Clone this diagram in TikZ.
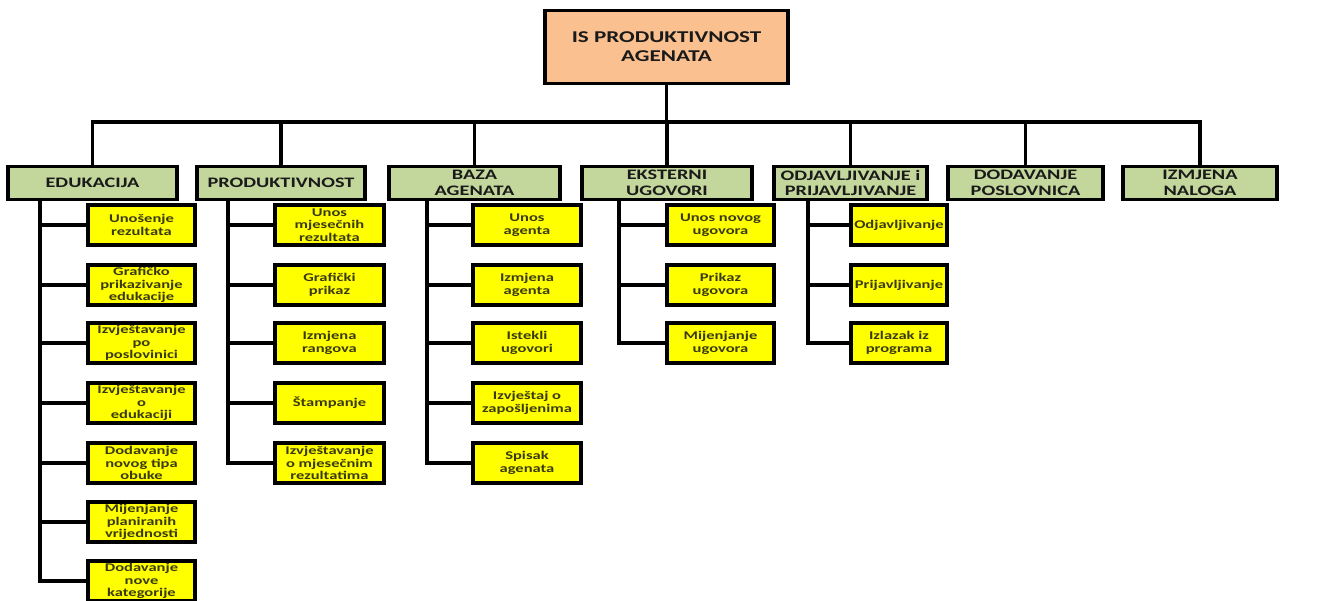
\documentclass[tikz,border=0pt]{standalone}
\usepackage{fontspec}
\setmainfont{Carlito}[FakeStretch=1.4]
\usetikzlibrary{calc}
\definecolor{rootfill}{HTML}{FAC090}
\definecolor{catfill}{HTML}{C3D69B}
\definecolor{leaffill}{HTML}{FFFF00}
\definecolor{leaftext}{HTML}{3A3A12}
\definecolor{cattext}{HTML}{1A1A1A}
\begin{document}
\begin{tikzpicture}[x=1pt,y=-1pt,
  box/.style={draw=black, line width=3.2pt, inner sep=0pt, align=center},
  rootbox/.style={box, fill=rootfill, minimum width=243pt, minimum height=73pt,
    font=\bfseries\fontsize{16.5}{19}\selectfont, text=cattext},
  catbox/.style={box, fill=catfill, minimum height=33pt,
    font=\bfseries\fontsize{14.5}{15.5}\selectfont, text=cattext},
  leafbox/.style={box, fill=leaffill, minimum height=40pt,
    font=\bfseries\fontsize{11.8}{12.5}\selectfont, text=leaftext},
  link/.style={line width=3.2pt, line cap=rect}]
\useasboundingbox (0,0) rectangle (1337,601);

% root
\node[rootbox] (root) at (666.5,47) {IS PRODUKTIVNOST\\AGENATA};

% categories
\node[catbox, minimum width=169pt] (edu)  at (92.5,183)  {EDUKACIJA};
\node[catbox, minimum width=168pt] (prod) at (281,183)   {PRODUKTIVNOST};
\node[catbox, minimum width=171pt] (baza) at (474.5,183) {BAZA\\AGENATA};
\node[catbox, minimum width=170pt] (eks)  at (667,183)   {EKSTERNI\\UGOVORI};
\node[catbox, minimum width=153pt] (odj)  at (850.5,183) {ODJAVLJIVANJE i\\PRIJAVLJIVANJE};
\node[catbox, minimum width=155pt] (dod)  at (1025.5,183){DODAVANJE\\POSLOVNICA};
\node[catbox, minimum width=154pt] (izm)  at (1200,183)  {IZMJENA\\NALOGA};

% EDUKACIJA leaves
\begin{scope}[every node/.append style={leafbox, minimum width=107pt}]
\node (e1) at (141.5,225) {Unošenje\\rezultata};
\node (e2) at (141.5,285) {Grafičko\\prikazivanje\\edukacije};
\node (e3) at (141.5,343) {Izvještavanje\\po\\poslovinici};
\node (e4) at (141.5,403) {Izvještavanje\\o\\edukaciji};
\node (e5) at (141.5,463) {Dodavanje\\novog tipa\\obuke};
\node (e6) at (141.5,522) {Mijenjanje\\planiranih\\vrijednosti};
\node (e7) at (141.5,581) {Dodavanje\\nove\\kategorije};
\end{scope}

% PRODUKTIVNOST leaves
\begin{scope}[every node/.append style={leafbox, minimum width=109pt}]
\node (p1) at (329.5,225) {Unos\\mjesečnih\\rezultata};
\node (p2) at (329.5,285) {Grafički\\prikaz};
\node (p3) at (329.5,343) {Izmjena\\rangova};
\node (p4) at (329.5,403) {Štampanje};
\node (p5) at (329.5,463) {Izvještavanje\\o mjesečnim\\rezultatima};
\end{scope}

% BAZA AGENATA leaves
\begin{scope}[every node/.append style={leafbox, minimum width=108pt}]
\node (b1) at (527,225) {Unos\\agenta};
\node (b2) at (527,285) {Izmjena\\agenta};
\node (b3) at (527,343) {Istekli\\ugovori};
\node (b4) at (527,403) {Izvještaj o\\zapošljenima};
\node (b5) at (527,463) {Spisak\\agenata};
\end{scope}

% EKSTERNI UGOVORI leaves
\begin{scope}[every node/.append style={leafbox, minimum width=107pt}]
\node (k1) at (720.5,225) {Unos novog\\ugovora};
\node (k2) at (720.5,285) {Prikaz\\ugovora};
\node (k3) at (720.5,343) {Mijenjanje\\ugovora};
\end{scope}

% ODJAVLJIVANJE i PRIJAVLJIVANJE leaves
\begin{scope}[every node/.append style={leafbox, minimum width=96pt}]
\node (o1) at (899,225) {Odjavljivanje};
\node (o2) at (899,285) {Prijavljivanje};
\node (o3) at (899,343) {Izlazak iz\\programa};
\end{scope}

% bus from the root to the categories
\coordinate (bus) at (0,122);
\draw[link] (root.south) -- (root.south |- bus);
\draw[link] (edu.north |- bus) -- (izm.north |- bus);
\foreach \c in {edu,prod,baza,eks,odj,dod,izm}
  \draw[link] (\c.north) -- (\c.north |- bus);

% spines under the categories
\coordinate (se) at (40,0);
\coordinate (sp) at (228,0);
\coordinate (sb) at (427,0);
\coordinate (sk) at (619,0);
\coordinate (so) at (808,0);

\draw[link] (se |- edu.south) -- (se |- e7.west);
\foreach \l in {e1,e2,e3,e4,e5,e6,e7}
  \draw[link] (se |- \l.west) -- (\l.west);

\draw[link] (sp |- prod.south) -- (sp |- p5.west);
\foreach \l in {p1,p2,p3,p4,p5}
  \draw[link] (sp |- \l.west) -- (\l.west);

\draw[link] (sb |- baza.south) -- (sb |- b5.west);
\foreach \l in {b1,b2,b3,b4,b5}
  \draw[link] (sb |- \l.west) -- (\l.west);

\draw[link] (sk |- eks.south) -- (sk |- k3.west);
\foreach \l in {k1,k2,k3}
  \draw[link] (sk |- \l.west) -- (\l.west);

\draw[link] (so |- odj.south) -- (so |- o3.west);
\foreach \l in {o1,o2,o3}
  \draw[link] (so |- \l.west) -- (\l.west);
\end{tikzpicture}
\end{document}
